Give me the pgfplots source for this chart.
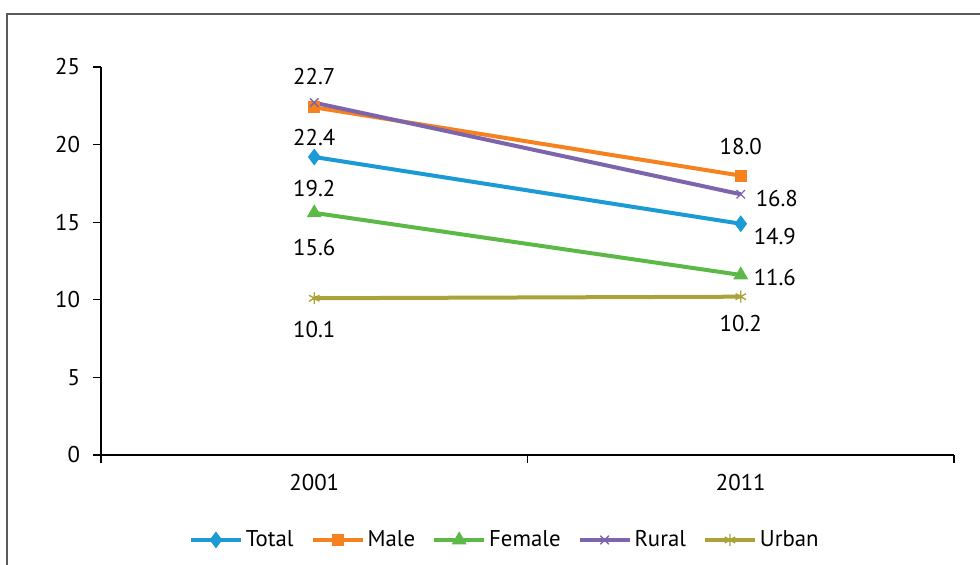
\documentclass[border=0pt]{standalone}
\usepackage{fontspec}
\setmainfont{PT Sans}
\usepackage{pgfplots}
\pgfplotsset{compat=1.18}
\definecolor{cTotal}{HTML}{1C9AD6}
\definecolor{cMale}{HTML}{F5821F}
\definecolor{cFemale}{HTML}{5CB947}
\definecolor{cRural}{HTML}{7D65AD}
\definecolor{cUrban}{HTML}{ABA33A}
\definecolor{frame}{HTML}{5A5A5A}
\newcommand{\fs}{\fontsize{11.4}{13.5}\selectfont}

\begin{document}
\fs
\begin{tikzpicture}
\path[use as bounding box] (-50.5pt,-55pt) rectangle (439.5pt,227.5pt);
\draw[line width=1pt, color=frame] (441pt,220.5pt) -- (-47pt,220.5pt) -- (-47pt,-57pt);
\begin{axis}[
  scale only axis, width=426.5pt, height=194pt,
  xmin=-0.5, xmax=1.5, ymin=0, ymax=25,
  axis lines*=left,
  axis line style={line width=0.6pt, black},
  /pgf/number format/assume math mode=true,
  tick align=outside,
  ytick={0,5,10,15,20,25},
  xtick={0,1}, xticklabels={2001,2011},
  minor xtick={-0.5,0.5,1.5},
  major x tick style={draw=none},
  minor x tick style={draw=black, line width=0.6pt},
  major tick length=4pt, minor tick length=4pt,
  ytick style={black, line width=0.6pt},
  tick label style={font=\fs},
  xticklabel style={yshift=-1.5pt},
  yticklabel style={xshift=-2.5pt},
  legend columns=5,
  legend style={draw=none, at={(0.474,-0.219)}, anchor=center,
    font=\fs, nodes={inner xsep=1.5pt},
    /tikz/every even column/.append style={column sep=7pt}},
  legend image code/.code={\draw[mark repeat=2,mark phase=2] plot coordinates {(0pt,0pt)(12.5pt,0pt)(25pt,0pt)};},
  lbl/.style n args={3}{
    forget plot, draw=none, mark=none,
    nodes near coords={\pgfmathprintnumber[fixed,fixed zerofill,precision=1]{\pgfplotspointmeta}},
    every node near coord/.append style={black, font=\fs, anchor=#1, xshift=#2, yshift=#3},
  },
]
\addplot[cTotal, line width=2pt, mark=diamond*, mark size=3.8pt, mark options={solid, line width=0.5pt}] coordinates {(0,19.2) (1,14.9)};
\addlegendentry{Total}
\addplot[cMale, line width=2pt, mark=square*, mark size=2.75pt, mark options={solid, line width=0.5pt}] coordinates {(0,22.4) (1,18.0)};
\addlegendentry{Male}
\addplot[cFemale, line width=2pt, mark=triangle*, mark size=3.8pt, mark options={solid, line width=0.5pt}] coordinates {(0,15.6) (1,11.6)};
\addlegendentry{Female}
\addplot[cRural, line width=2pt, mark=x, mark size=3pt, mark options={solid, line width=0.7pt}] coordinates {(0,22.7) (1,16.8)};
\addlegendentry{Rural}
\addplot[cUrban, line width=2pt, mark=asterisk, mark size=3pt, mark options={solid, line width=0.7pt}] coordinates {(0,10.1) (1,10.2)};
\addlegendentry{Urban}
% value labels
\addplot[lbl={north}{0pt}{-7.5pt}]   coordinates {(0,19.2)};
\addplot[lbl={west}{2.5pt}{-6.5pt}]  coordinates {(1,14.9)};
\addplot[lbl={north}{0pt}{-7pt}] coordinates {(0,22.4)};
\addplot[lbl={south}{0pt}{6.5pt}]  coordinates {(1,18.0)};
\addplot[lbl={north}{0pt}{-9pt}] coordinates {(0,15.6)};
\addplot[lbl={west}{2.5pt}{-1.5pt}] coordinates {(1,11.6)};
\addplot[lbl={south}{0pt}{5pt}]  coordinates {(0,22.7)};
\addplot[lbl={west}{3.5pt}{-2pt}]  coordinates {(1,16.8)};
\addplot[lbl={north}{0pt}{-7.5pt}]   coordinates {(0,10.1)};
\addplot[lbl={north}{0pt}{-5.5pt}]   coordinates {(1,10.2)};
\end{axis}
\end{tikzpicture}
\end{document}
